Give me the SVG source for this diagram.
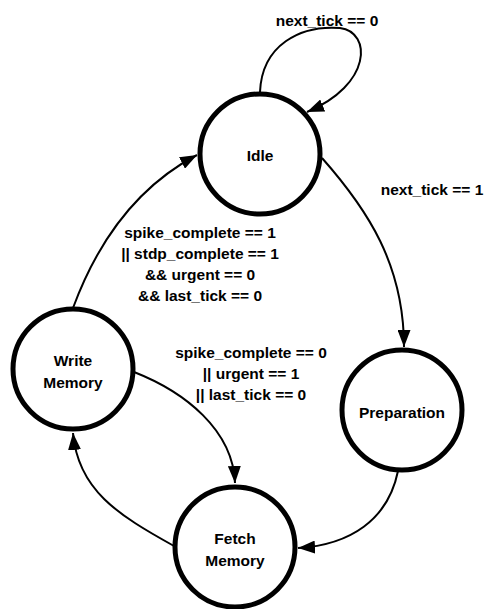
<svg xmlns="http://www.w3.org/2000/svg" width="485" height="609" viewBox="0 0 485 609">
  <style>
    .state { fill: #ffffff; stroke: #000000; stroke-width: 5; }
    .edge { fill: none; stroke: #000000; stroke-width: 2; marker-end: url(#arrow); }
    text { font-family: "Liberation Sans", Arial, sans-serif; font-weight: bold; font-size: 15.5px; fill: #000000; text-anchor: middle; }
  </style>
  <defs>
    <marker id="arrow" markerUnits="userSpaceOnUse" markerWidth="18" markerHeight="13" refX="17" refY="6.5" orient="auto">
      <path d="M0,0 L17,6.5 L0,13 Z" fill="#000000"/>
    </marker>
  </defs>

  <!-- transitions -->
  <g id="connectors">
    <path class="edge" d="M 260 92 C 262 45, 300 25, 340 28 C 372 32, 372 85, 307 112"/>
    <path class="edge" d="M 322 158 C 368 210, 404 265, 404 347"/>
    <path class="edge" d="M 398 471 C 388 520, 350 545, 298 548"/>
    <path class="edge" d="M 174 546 C 118 515, 78 490, 73 433"/>
    <path class="edge" d="M 134 372 C 185 392, 233 430, 235 483"/>
    <path class="edge" d="M 73 308 C 100 235, 140 185, 197 155"/>
  </g>

  <!-- transition conditions -->
  <g id="labels">
    <text x="327" y="25.5">next_tick == 0</text>
    <text x="432" y="194.5">next_tick == 1</text>
    <text x="200" y="237.5">spike_complete == 1</text>
    <text x="200" y="258.5">|| stdp_complete == 1</text>
    <text x="200" y="279.5">&amp;&amp; urgent == 0</text>
    <text x="200" y="300.5">&amp;&amp; last_tick == 0</text>
    <text x="251" y="357.5">spike_complete == 0</text>
    <text x="251" y="378.5">|| urgent == 1</text>
    <text x="251" y="399.5">|| last_tick == 0</text>
  </g>

  <!-- states -->
  <g id="idle">
    <circle class="state" cx="260" cy="154" r="60"/>
    <text x="260" y="160.5">Idle</text>
  </g>
  <g id="preparation">
    <circle class="state" cx="402" cy="410" r="60"/>
    <text x="402" y="417.5">Preparation</text>
  </g>
  <g id="fetch-memory">
    <circle class="state" cx="235" cy="547" r="60"/>
    <text x="235" y="543.5">Fetch</text>
    <text x="235" y="565.5">Memory</text>
  </g>
  <g id="write-memory">
    <circle class="state" cx="73" cy="369" r="60"/>
    <text x="73" y="365.5">Write</text>
    <text x="73" y="387.5">Memory</text>
  </g>
</svg>
